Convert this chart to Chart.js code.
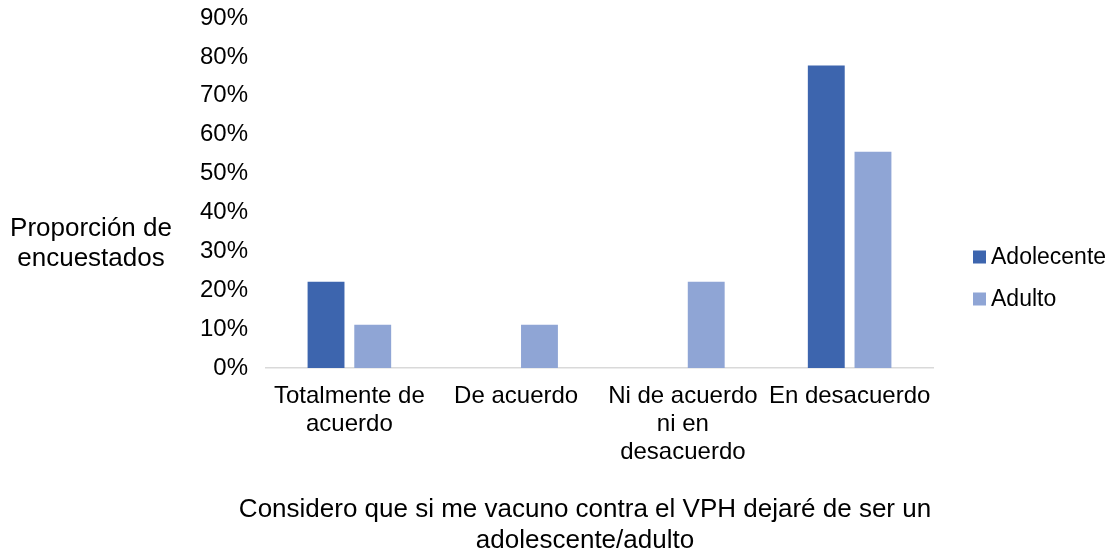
<!DOCTYPE html>
<html>
<head>
<meta charset="utf-8">
<script src="https://cdn.jsdelivr.net/npm/chart.js"></script>
<style>
  html, body { margin: 0; padding: 0; background: #fff; }
  #wrap { position: relative; width: 1115px; height: 550px; }
</style>
</head>
<body>
<div id="wrap"><canvas id="chart"></canvas></div>
<script>
// Respuestas por categoría
const categorias = [
    ['Totalmente de', 'acuerdo'],
    ['De acuerdo'],
    ['Ni de acuerdo', 'ni en', 'desacuerdo'],
    ['En desacuerdo']
];
const adolecente = [22.2, 0, 0, 77.8];
const adulto = [11.1, 11.1, 22.2, 55.6];
const ticksY = [0, 10, 20, 30, 40, 50, 60, 70, 80, 90];

const tituloY = ['Proporción de', 'encuestados'];
const tituloX = ['Considero que si me vacuno contra el VPH dejaré de ser un', 'adolescente/adulto'];

const fuente = "'Liberation Sans', Arial, sans-serif";

// Títulos de ejes en horizontal y leyenda a la derecha
const extras = {
    id: 'extras',
    afterDraw(chart) {
        const ctx = chart.ctx;
        ctx.save();
        ctx.fillStyle = '#000';
        ctx.font = '26px ' + fuente;
        ctx.textAlign = 'center';
        ctx.textBaseline = 'middle';
        ctx.fillText(tituloY[0], 91, 229);
        ctx.fillText(tituloY[1], 91, 259);
        ctx.fillText(tituloX[0], 585, 510);
        ctx.fillText(tituloX[1], 585, 541);

        // leyenda
        ctx.font = '23px ' + fuente;
        ctx.textAlign = 'left';
        chart.data.datasets.forEach((ds, i) => {
            const y = 257 + i * 42;
            ctx.fillStyle = ds.backgroundColor;
            ctx.fillRect(973, y - 6.5, 13, 13);
            ctx.fillStyle = '#000';
            ctx.fillText(ds.label, 991, y + 1);
        });
        ctx.restore();
    }
};

const ctx = document.getElementById('chart').getContext('2d');
const grafico = new Chart(ctx, {
    type: 'bar',
    data: {
        labels: categorias,
        datasets: [{
            label: 'Adolecente',
            data: adolecente,
            backgroundColor: '#3d65ae',
            categoryPercentage: 0.56,
            barPercentage: 0.79
        }, {
            label: 'Adulto',
            data: adulto,
            backgroundColor: '#8fa5d5',
            categoryPercentage: 0.56,
            barPercentage: 0.79
        }]
    },
    options: {
        responsive: true,
        maintainAspectRatio: false,
        animation: false,
        layout: {
            padding: { top: 18, right: 182, bottom: 0, left: 0 }
        },
        plugins: {
            tooltip: { enabled: false },
            legend: { display: false }
        },
        scales: {
            x: {
                grid: { display: false, drawTicks: false },
                border: { display: true, color: '#d9d9d9', width: 1.5 },
                ticks: {
                    color: '#000',
                    padding: 14,
                    maxRotation: 0,
                    autoSkip: false,
                    font: { family: fuente, size: 24, lineHeight: 1.17 }
                },
                afterFit(scale) { scale.height = 182; }
            },
            y: {
                min: 0,
                max: 90,
                afterBuildTicks(scale) {
                    scale.ticks = ticksY.map(v => ({ value: v }));
                },
                grid: { display: false, drawTicks: false },
                border: { display: false },
                ticks: {
                    color: '#000',
                    padding: 18,
                    font: { family: fuente, size: 24 },
                    callback: v => v + '%'
                },
                afterFit(scale) {
                    scale.width = 266;
                    scale.paddingTop = 0;
                    scale.paddingBottom = 0;
                }
            }
        }
    },
    plugins: [extras]
});
</script>
</body>
</html>
